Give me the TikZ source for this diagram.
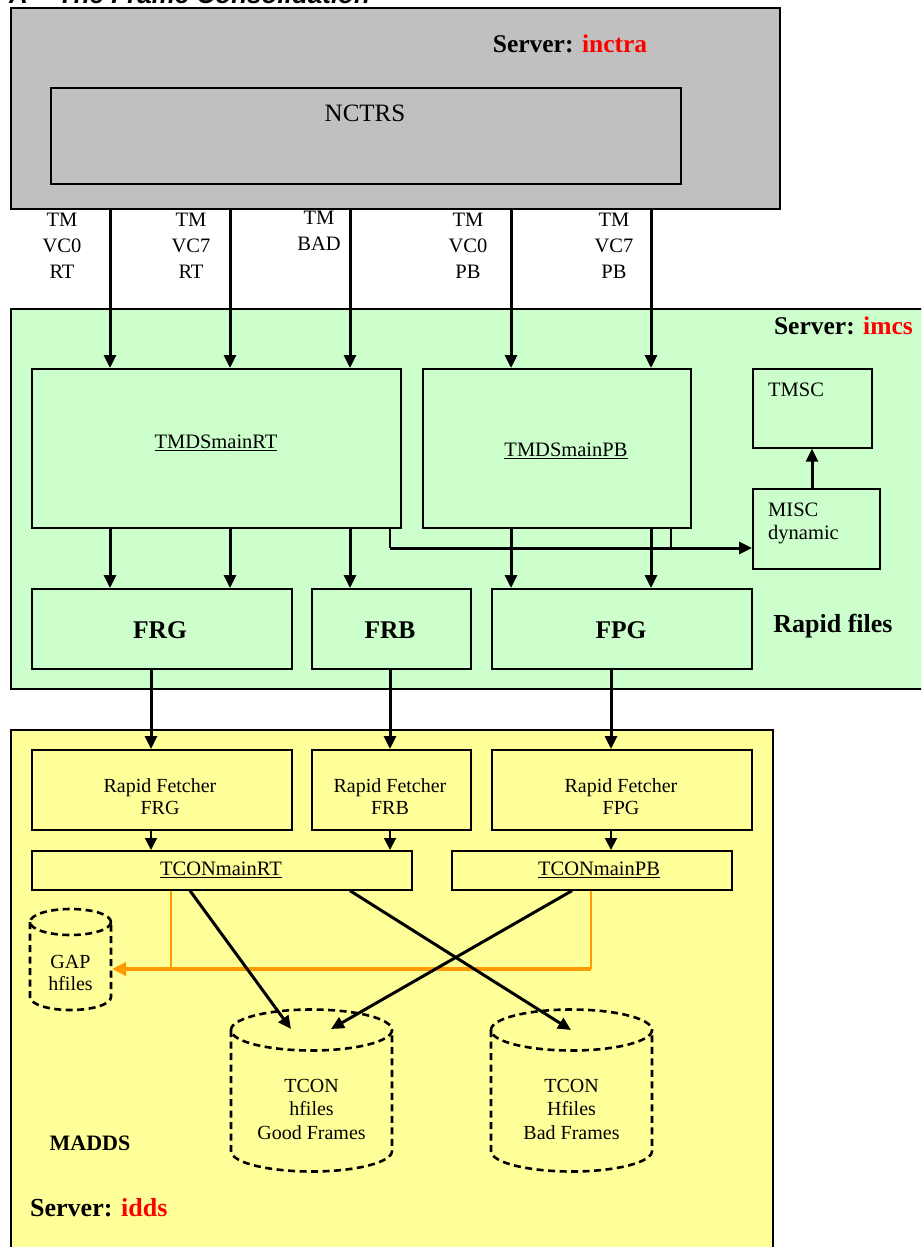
\documentclass[tikz,border=0pt]{standalone}
\usepackage{fontspec}
\setmainfont{Liberation Serif}
\setsansfont{Liberation Sans}
\usetikzlibrary{arrows.meta,calc}
\definecolor{grayfill}{HTML}{C0C0C0}
\definecolor{greenfill}{HTML}{CCFFCC}
\definecolor{yellowfill}{HTML}{FFFF99}
\definecolor{srvred}{HTML}{FF0000}
\definecolor{gapline}{HTML}{FF9900}

% outline of a dashed storage drum: centre x, top-ellipse centre y, x radius, y radius, bottom centre y
\newcommand\drumoutline[5]{%
  \draw[drum] (#1,#2) ellipse [x radius=#3, y radius=#4];
  \draw[drum] (#1-#3,#2) -- (#1-#3,#5)
     arc [start angle=180, end angle=0, x radius=#3, y radius=#4] -- (#1+#3,#2);}

\begin{document}
\begin{tikzpicture}[x=1pt,y=-1pt,
  box/.style={draw=black, line width=1.7pt, rectangle, inner sep=0pt, anchor=north west},
  plain/.style={font=\fontsize{20.5}{23}\selectfont, align=center, inner sep=0pt},
  tmlab/.style={font=\fontsize{20.5}{26}\selectfont, align=center, inner sep=0pt},
  fetch/.style={font=\fontsize{20}{22}\selectfont, align=center, inner sep=0pt},
  bigtxt/.style={font=\fontsize{25.5}{28}\selectfont\bfseries, inner sep=0pt},
  bigarrow/.style={line width=3pt, -{Triangle[length=13pt,width=12pt]}},
  smallarrow/.style={line width=1.9pt, -{Triangle[length=12pt,width=12pt]}},
  thinline/.style={line width=1.7pt},
  drum/.style={line width=2.6pt, dash pattern=on 7pt off 4.5pt},
  orangethin/.style={draw=gapline, line width=1.7pt},
  orangearrow/.style={draw=gapline, line width=3.4pt, -{Triangle[length=14pt,width=13pt,fill=gapline]}}
]
\useasboundingbox (0,0) rectangle (921,1247);
\clip (0,0) rectangle (921,1247);
\fill[white] (0,0) rectangle (921,1247);

% heading above the server boxes
\node[anchor=base west, inner sep=0pt, font=\sffamily\bfseries\itshape\fontsize{26}{28}\selectfont] (heading) at (9,3.5) {A\hspace{30pt}The Frame Consolidation};

% ---------------- inctra ----------------
\node[box, fill=grayfill, minimum width=769pt, minimum height=201pt] (inctra) at (10,7) {};
\node[bigtxt] (inctralab) at (570,44) {Server: \textcolor{srvred}{inctra}};
\node[box, fill=grayfill, minimum width=630pt, minimum height=96pt] (nctrs) at (50,87) {};
\node[plain, font=\fontsize{25}{28}\selectfont] (nctrslab) at (365,113) {NCTRS};

\node[tmlab] (s1) at (62,246) {TM\\VC0\\RT};
\node[tmlab] (s2) at (191,246) {TM\\VC7\\RT};
\node[tmlab] (s3) at (319,231) {TM\\BAD};
\node[tmlab] (s4) at (468,246) {TM\\VC0\\PB};
\node[tmlab] (s5) at (614,246) {TM\\VC7\\PB};

% ---------------- imcs ----------------
\node[box, fill=greenfill, minimum width=925pt, minimum height=380pt] (imcs) at (10,308) {};
\node[bigtxt, anchor=east] (imcslab) at (913,326) {Server: \textcolor{srvred}{imcs}};

\node[box, minimum width=369pt, minimum height=159pt] (rt) at (31,368) {};
\node[plain] (rtlab) at (216,443) {\underline{TMDSmainRT}};
\node[box, minimum width=268pt, minimum height=159pt] (pb) at (422,368) {};
\node[plain] (pblab) at (566,451) {\underline{TMDSmainPB}};

\node[box, minimum width=119pt, minimum height=79pt] (tmsc) at (752,368) {};
\node[plain, anchor=north west] (tmsclab) at (768,383) {TMSC};
\node[box, minimum width=127pt, minimum height=80pt] (misc) at (752,488) {};
\node[plain, anchor=north west, align=left] (misclab) at (768,503) {MISC\\dynamic};

\node[box, minimum width=260pt, minimum height=80pt] (frg) at (31,588) {};
\node[bigtxt] (frglab) at (160,630) {FRG};
\node[box, minimum width=159pt, minimum height=80pt] (frb) at (311,588) {};
\node[bigtxt] (frblab) at (390,630) {FRB};
\node[box, minimum width=260pt, minimum height=80pt] (fpg) at (491,588) {};
\node[bigtxt] (fpglab) at (621,630) {FPG};
\node[bigtxt, font=\fontsize{26}{28}\selectfont\bfseries] (rapid) at (833,626) {Rapid files};

% ---------------- idds ----------------
\node[box, fill=yellowfill, minimum width=762pt, minimum height=530pt] (idds) at (10,729) {};

\node[box, minimum width=260pt, minimum height=80pt] (fetchg) at (31,749) {};
\node[fetch] (fetchglab) at (160,797) {Rapid Fetcher\\FRG};
\node[box, minimum width=159pt, minimum height=80pt] (fetchb) at (311,749) {};
\node[fetch] (fetchblab) at (390,797) {Rapid Fetcher\\FRB};
\node[box, minimum width=260pt, minimum height=80pt] (fetchp) at (491,749) {};
\node[fetch] (fetchplab) at (621,797) {Rapid Fetcher\\FPG};

\node[box, minimum width=380pt, minimum height=39pt] (tcrt) at (31,850) {};
\node[fetch, font=\fontsize{20.5}{22}\selectfont] (tcrtlab) at (221,870) {\underline{TCONmainRT}};
\node[box, minimum width=280pt, minimum height=39pt] (tcpb) at (451,850) {};
\node[fetch, font=\fontsize{20.5}{22}\selectfont] (tcpblab) at (599,870) {\underline{TCONmainPB}};

% storage drums
\drumoutline{70.5}{922}{40.5}{13}{997}
\node[fetch] (gap) at (70.5,973) {GAP\\hfiles};
\drumoutline{311.5}{1030}{80.5}{20.5}{1151}
\node[fetch, font=\fontsize{20}{23.5}\selectfont] (good) at (311.5,1109) {TCON\\hfiles\\Good Frames};
\drumoutline{571.5}{1030}{80.5}{20.5}{1151}
\node[fetch, font=\fontsize{20}{23.5}\selectfont] (bad) at (571.5,1109) {TCON\\Hfiles\\Bad Frames};
\coordinate (gapin) at (112,969);
\coordinate (goodinrt) at (291,1029);
\coordinate (goodinpb) at (331,1029);
\coordinate (badin) at (571,1030);

\node[bigtxt, font=\fontsize{22}{26}\selectfont\bfseries] (madds) at (90,1143) {MADDS};
\node[bigtxt, anchor=west, font=\fontsize{26}{28}\selectfont\bfseries] (iddslab) at (30,1208) {Server: \textcolor{srvred}{idds}};

% ---------------- connectors ----------------
\draw[bigarrow] (inctra.south -| 110,0) -- (rt.north -| 110,0);
\draw[bigarrow] (inctra.south -| 230,0) -- (rt.north -| 230,0);
\draw[bigarrow] (inctra.south -| 350,0) -- (rt.north -| 350,0);
\draw[bigarrow] (inctra.south -| 511,0) -- (pb.north -| 511,0);
\draw[bigarrow] (inctra.south -| 651,0) -- (pb.north -| 651,0);

\draw[bigarrow] (rt.south -| 110,0) -- (frg.north -| 110,0);
\draw[bigarrow] (rt.south -| 230,0) -- (frg.north -| 230,0);
\draw[bigarrow] (rt.south -| 350,0) -- (frb.north -| 350,0);
\draw[bigarrow] (pb.south -| 511,0) -- (fpg.north -| 511,0);
\draw[bigarrow] (pb.south -| 651,0) -- (fpg.north -| 651,0);

\coordinate (junc) at (390,548);
\draw[thinline] (rt.south -| junc) -- (junc);
\draw[thinline] (pb.south -| 671,0) -- (671,548);
\draw[bigarrow] (junc) -- (misc.west |- junc);
\draw[bigarrow] (misc.north -| 812,0) -- (tmsc.south -| 812,0);

\draw[bigarrow] (frg.south -| 151,0) -- (fetchg.north -| 151,0);
\draw[bigarrow] (frb.south -| 390,0) -- (fetchb.north -| 390,0);
\draw[bigarrow] (fpg.south -| 611,0) -- (fetchp.north -| 611,0);

\draw[smallarrow] (fetchg.south -| 151,0) -- (tcrt.north -| 151,0);
\draw[smallarrow] (fetchb.south -| 390,0) -- (tcrt.north -| 390,0);
\draw[smallarrow] (fetchp.south -| 611,0) -- (tcpb.north -| 611,0);

\draw[orangethin] (tcrt.south -| 171,0) -- (171,969);
\draw[orangethin] (tcpb.south -| 591,0) -- (591,969);
\draw[orangearrow] (591,969) -- (gapin);

\draw[bigarrow] (tcrt.south -| 190,0) -- (goodinrt);
\draw[bigarrow] (tcrt.south -| 350,0) -- (badin);
\draw[bigarrow] (tcpb.south -| 572,0) -- (goodinpb);
\end{tikzpicture}
\end{document}
